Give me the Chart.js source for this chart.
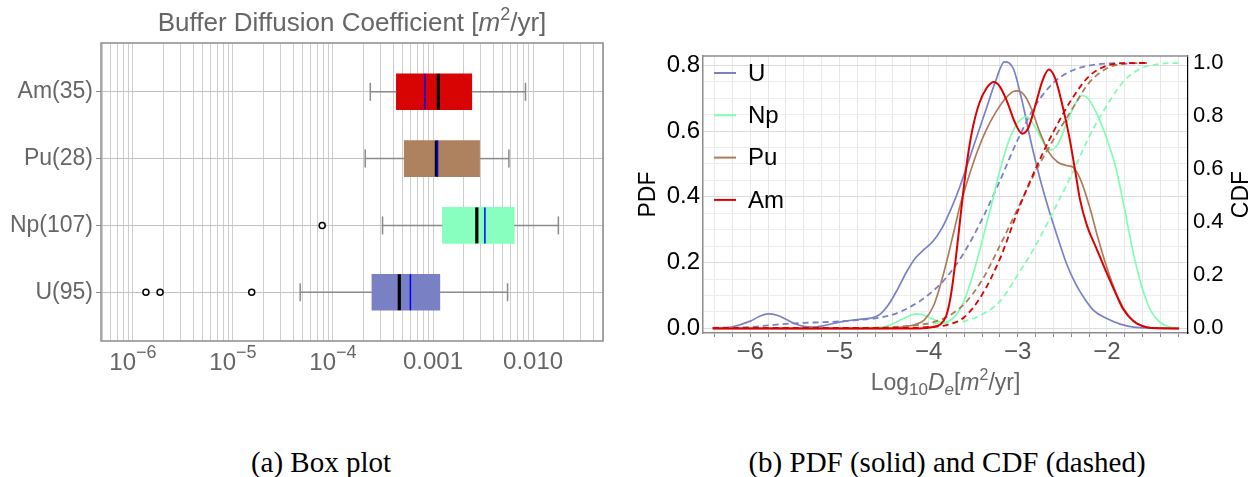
<!DOCTYPE html>
<html>
<head>
<meta charset="utf-8">
<title>Buffer diffusion coefficient</title>
<script src="https://cdn.jsdelivr.net/npm/chart.js@4.4.1/dist/chart.umd.min.js"></script>
<style>
  body { margin: 0; background: #fff; }
  #page { position: relative; width: 1258px; height: 477px; overflow: hidden; background: #fff; }
  #boxChart { position: absolute; left: 0; top: 0; }
  #densityChart { position: absolute; left: 629px; top: 0; }
  .caption { position: absolute; top: 445px; font-family: "Liberation Serif", "Times New Roman", serif; font-size: 29px; line-height: 34px; color: #000; white-space: nowrap; transform: translateX(-50%); }
</style>
</head>
<body>
<div id="page">
  <canvas id="boxChart" width="629" height="410"></canvas>
  <canvas id="densityChart" width="629" height="410"></canvas>
  <div class="caption" style="left:321px">(a) Box plot</div>
  <div class="caption" style="left:947px">(b) PDF (solid) and CDF (dashed)</div>
</div>
<script>
Chart.defaults.font.family = "'Liberation Sans', Arial, sans-serif";
Chart.defaults.animation = false;

// (a) box plot, one entry per element, bottom to top
let elements = ["U(95)", "Np(107)", "Pu(28)", "Am(35)"];
let boxColors = ["rgb(121,128,196)", "rgb(136,255,190)", "rgb(174,129,95)", "rgb(216,4,4)"];
let whiskerLow = [4.7e-5, 3.13e-4, 2.1e-4, 2.36e-4];
let quartileLow = [2.45e-4, 1.24e-3, 5.16e-4, 4.3e-4];
let medians = [4.6e-4, 2.74e-3, 1.08e-3, 1.13e-3];
let means = [5.94e-4, 3.3e-3, 1.11e-3, 8.3e-4];
let quartileHigh = [1.17e-3, 6.5e-3, 2.92e-3, 2.44e-3];
let whiskerHigh = [5.56e-3, 0.0179, 5.73e-3, 8.4e-3];
let outliers = [[1.35e-6, 1.87e-6, 1.54e-5], [7.8e-5], [], []];
let boxTickValues = [1e-6, 1e-5, 1e-4, 1e-3, 1e-2];
let boxTickLabels = [["10", "\u22126"], ["10", "\u22125"], ["10", "\u22124"], ["0.001"], ["0.010"]];

// (b) PDF / CDF of log10 De, points as [log10 De, value]
let species = ["U", "Np", "Pu", "Am"];
let lineColors = ["rgb(122,128,200)", "rgb(128,255,180)", "rgb(172,124,90)", "rgb(222,0,0)"];
let pdfU = [[-6.42,0],[-6.2,0.005],[-6.0,0.022],[-5.9,0.036],[-5.8,0.044],[-5.7,0.04],[-5.6,0.028],[-5.5,0.014],[-5.4,0.006],[-5.3,0.004],[-5.2,0.007],[-5.0,0.019],[-4.8,0.027],[-4.65,0.031],[-4.55,0.042],[-4.45,0.072],[-4.35,0.118],[-4.25,0.17],[-4.15,0.213],[-4.05,0.24],[-3.95,0.265],[-3.85,0.305],[-3.75,0.362],[-3.65,0.43],[-3.55,0.51],[-3.45,0.59],[-3.35,0.67],[-3.25,0.75],[-3.15,0.81],[-3.05,0.79],[-2.95,0.69],[-2.85,0.565],[-2.75,0.455],[-2.65,0.36],[-2.55,0.275],[-2.45,0.195],[-2.35,0.135],[-2.25,0.09],[-2.15,0.055],[-2.0,0.03],[-1.85,0.013],[-1.7,0.004],[-1.5,0.001],[-1.19,0]];
let pdfNp = [[-6.42,0],[-4.7,0],[-4.5,0.005],[-4.4,0.014],[-4.3,0.028],[-4.2,0.04],[-4.13,0.044],[-4.05,0.04],[-3.95,0.028],[-3.87,0.019],[-3.8,0.02],[-3.7,0.038],[-3.6,0.085],[-3.5,0.165],[-3.4,0.265],[-3.3,0.37],[-3.2,0.48],[-3.1,0.57],[-3.0,0.625],[-2.9,0.644],[-2.8,0.61],[-2.7,0.56],[-2.63,0.542],[-2.55,0.56],[-2.45,0.625],[-2.35,0.685],[-2.28,0.708],[-2.2,0.695],[-2.1,0.645],[-2.0,0.575],[-1.9,0.49],[-1.8,0.36],[-1.7,0.225],[-1.6,0.12],[-1.5,0.05],[-1.4,0.018],[-1.3,0.005],[-1.19,0]];
let pdfPu = [[-6.42,0],[-4.5,0],[-4.3,0.004],[-4.15,0.012],[-4.05,0.025],[-3.95,0.065],[-3.88,0.12],[-3.8,0.2],[-3.72,0.29],[-3.65,0.37],[-3.55,0.46],[-3.45,0.54],[-3.35,0.605],[-3.25,0.655],[-3.15,0.695],[-3.05,0.72],[-3.0,0.722],[-2.93,0.71],[-2.85,0.67],[-2.75,0.595],[-2.65,0.535],[-2.55,0.505],[-2.45,0.495],[-2.38,0.49],[-2.3,0.455],[-2.2,0.375],[-2.1,0.275],[-2.0,0.185],[-1.9,0.11],[-1.8,0.055],[-1.7,0.022],[-1.6,0.008],[-1.5,0.002],[-1.19,0]];
let pdfAm = [[-6.42,0],[-4.1,0],[-3.95,0.004],[-3.87,0.012],[-3.8,0.04],[-3.75,0.1],[-3.7,0.2],[-3.65,0.32],[-3.6,0.44],[-3.55,0.54],[-3.5,0.615],[-3.43,0.685],[-3.35,0.73],[-3.27,0.749],[-3.2,0.735],[-3.12,0.69],[-3.03,0.625],[-2.95,0.592],[-2.88,0.61],[-2.8,0.68],[-2.72,0.755],[-2.65,0.787],[-2.58,0.76],[-2.5,0.68],[-2.42,0.58],[-2.35,0.47],[-2.3,0.39],[-2.22,0.31],[-2.12,0.245],[-2.02,0.18],[-1.93,0.124],[-1.82,0.06],[-1.7,0.022],[-1.6,0.007],[-1.5,0.001],[-1.19,0]];
let cdfU = [[-6.42,0],[-6.0,0.003],[-5.8,0.009],[-5.6,0.015],[-5.4,0.019],[-5.2,0.021],[-5.0,0.024],[-4.8,0.029],[-4.6,0.036],[-4.4,0.05],[-4.2,0.08],[-4.0,0.125],[-3.8,0.19],[-3.6,0.285],[-3.4,0.41],[-3.2,0.555],[-3.0,0.71],[-2.8,0.84],[-2.6,0.925],[-2.4,0.97],[-2.2,0.99],[-2.0,0.998],[-1.8,1.0],[-1.55,1.0]];
let cdfNp = [[-6.42,0],[-4.7,0],[-4.4,0.002],[-4.2,0.008],[-4.0,0.015],[-3.8,0.019],[-3.6,0.025],[-3.4,0.05],[-3.2,0.1],[-3.0,0.2],[-2.8,0.31],[-2.6,0.44],[-2.4,0.575],[-2.2,0.72],[-2.0,0.84],[-1.8,0.935],[-1.6,0.982],[-1.4,0.997],[-1.2,1.0]];
let cdfPu = [[-6.42,0],[-4.6,0],[-4.4,0.003],[-4.2,0.008],[-4.0,0.017],[-3.8,0.04],[-3.6,0.09],[-3.4,0.18],[-3.2,0.31],[-3.0,0.45],[-2.8,0.59],[-2.6,0.71],[-2.4,0.82],[-2.2,0.925],[-2.0,0.98],[-1.8,0.997],[-1.55,1.0]];
let cdfAm = [[-6.42,0],[-4.2,0],[-4.0,0.003],[-3.8,0.01],[-3.6,0.04],[-3.4,0.125],[-3.2,0.26],[-3.0,0.44],[-2.8,0.6],[-2.6,0.74],[-2.4,0.86],[-2.2,0.95],[-2.0,0.99],[-1.8,0.999],[-1.55,1.0]];
let pdfTicks = [0, 0.2, 0.4, 0.6, 0.8];
let cdfTicks = [0, 0.2, 0.4, 0.6, 0.8, 1.0];
let logDTicks = [-6, -5, -4, -3, -2];

let fontName = "'Liberation Sans', Arial, sans-serif";

function drawRichText(ctx, parts, centerX, baseline, color) {
  let total = 0;
  parts.forEach(function (p) {
    ctx.font = (p.italic ? "italic " : "") + p.size + "px " + fontName;
    p.width = ctx.measureText(p.text).width;
    total += p.width;
  });
  let x = centerX - total / 2;
  ctx.save();
  ctx.fillStyle = color;
  ctx.textAlign = "left";
  ctx.textBaseline = "alphabetic";
  parts.forEach(function (p) {
    ctx.font = (p.italic ? "italic " : "") + p.size + "px " + fontName;
    ctx.fillText(p.text, x, baseline + (p.dy || 0));
    x += p.width;
  });
  ctx.restore();
}

function logGridValues(min, max) {
  let values = [];
  for (let e = -7; e <= -1; e++) {
    for (let m = 1; m <= 9; m++) {
      let v = parseFloat((m * Math.pow(10, e)).toPrecision(6));
      if (v >= min && v <= max) values.push(v);
    }
  }
  return values;
}

function stepValues(from, to, step) {
  let values = [];
  let n = Math.round((to - from) / step);
  for (let k = 0; k <= n; k++) {
    values.push(Math.round((from + k * step) * 1000) / 1000);
  }
  return values;
}

function isMultiple(value, step) {
  let r = value / step;
  return Math.abs(r - Math.round(r)) < 1e-6;
}

function toPoints(pairs) {
  return pairs.map(function (p) { return { x: p[0], y: p[1] }; });
}

// ---------- (a) Box plot ----------
let boxDatasets = [];

boxDatasets.push({
  type: "bar",
  indexAxis: "y",
  data: elements.map(function (_, i) { return { x: [quartileLow[i], quartileHigh[i]], y: i + 1 }; }),
  backgroundColor: boxColors,
  borderWidth: 0,
  barThickness: 36,
  order: 6
});

elements.forEach(function (_, i) {
  boxDatasets.push({
    type: "line",
    data: [{ x: whiskerLow[i], y: i + 1 }, { x: quartileLow[i], y: i + 1 }],
    borderColor: "#8a8a8a",
    borderWidth: 1.5,
    pointRadius: 0,
    order: 5
  });
  boxDatasets.push({
    type: "line",
    data: [{ x: quartileHigh[i], y: i + 1 }, { x: whiskerHigh[i], y: i + 1 }],
    borderColor: "#8a8a8a",
    borderWidth: 1.5,
    pointRadius: 0,
    order: 5
  });
});

let capPoints = [];
elements.forEach(function (_, i) {
  capPoints.push({ x: whiskerLow[i], y: i + 1 }, { x: whiskerHigh[i], y: i + 1 });
});
boxDatasets.push({
  type: "scatter",
  data: capPoints,
  pointStyle: "line",
  rotation: 90,
  pointRadius: 9,
  borderColor: "#8a8a8a",
  borderWidth: 1.5,
  order: 3
});

let outlierPoints = [];
outliers.forEach(function (list, i) {
  list.forEach(function (v) { outlierPoints.push({ x: v, y: i + 1 }); });
});
boxDatasets.push({
  type: "scatter",
  data: outlierPoints,
  pointStyle: "circle",
  pointRadius: 3,
  borderColor: "#000",
  backgroundColor: "#fff",
  borderWidth: 1.5,
  order: 3
});

boxDatasets.push({
  type: "scatter",
  data: medians.map(function (v, i) { return { x: v, y: i + 1 }; }),
  pointStyle: "line",
  rotation: 90,
  pointRadius: 18,
  borderColor: "#000",
  borderWidth: 3.2,
  order: 2
});

boxDatasets.push({
  type: "scatter",
  data: means.map(function (v, i) { return { x: v, y: i + 1 }; }),
  pointStyle: "line",
  rotation: 90,
  pointRadius: 18,
  borderColor: "rgb(0,0,255)",
  borderWidth: 1.5,
  order: 1
});

let boxDecorations = {
  id: "boxDecorations",
  afterDraw: function (chart) {
    let ctx = chart.ctx;
    let area = chart.chartArea;
    ctx.save();
    ctx.strokeStyle = "#8c8c8c";
    ctx.lineWidth = 1.5;
    ctx.strokeRect(area.left, area.top, area.right - area.left, area.bottom - area.top);
    ctx.restore();

    drawRichText(ctx, [
      { text: "Buffer Diffusion Coefficient [", size: 26 },
      { text: "m", size: 26, italic: true },
      { text: "2", size: 18, dy: -11 },
      { text: "/yr]", size: 26 }
    ], (area.left + area.right) / 2, 31, "#666");

    let xScale = chart.scales.x;
    boxTickValues.forEach(function (v, i) {
      let label = boxTickLabels[i];
      let px = xScale.getPixelForValue(v);
      if (label.length === 2) {
        drawRichText(ctx, [
          { text: label[0], size: 24 },
          { text: label[1], size: 18, dy: -12 }
        ], px, 370, "#666");
      } else {
        drawRichText(ctx, [{ text: label[0], size: 24 }], px, 369, "#666");
      }
    });
  }
};

let boxChart = new Chart(document.getElementById("boxChart"), {
  type: "bar",
  data: { datasets: boxDatasets },
  options: {
    responsive: false,
    devicePixelRatio: 1,
    animation: false,
    layout: { padding: { left: 0, right: 26, top: 43, bottom: 0 } },
    plugins: { legend: { display: false }, tooltip: { enabled: false } },
    scales: {
      x: {
        type: "logarithmic",
        offset: false,
        min: 4.8e-7,
        max: 0.05,
        afterBuildTicks: function (scale) {
          scale.ticks = logGridValues(4.8e-7, 0.05).map(function (v) { return { value: v }; });
        },
        afterFit: function (scale) { scale.height = 69; },
        ticks: { display: false, autoSkip: false },
        grid: { color: "#cdcdcd", lineWidth: 1, drawTicks: false, offset: false },
        border: { display: false }
      },
      y: {
        type: "linear",
        offset: false,
        min: 0.27,
        max: 4.73,
        afterBuildTicks: function (scale) {
          scale.ticks = elements.map(function (_, i) { return { value: i + 1 }; });
        },
        afterFit: function (scale) { scale.width = 101; },
        ticks: {
          autoSkip: false,
          color: "#666",
          font: { size: 23 },
          padding: 3,
          callback: function (value) { return elements[Math.round(value) - 1]; }
        },
        grid: { color: "#c2c2c2", lineWidth: 1, tickColor: "#8c8c8c", tickLength: 5, offset: false },
        border: { display: false }
      }
    }
  },
  plugins: [boxDecorations]
});

// ---------- (b) PDF and CDF ----------
let pdfSeries = [pdfU, pdfNp, pdfPu, pdfAm];
let cdfSeries = [cdfU, cdfNp, cdfPu, cdfAm];
let densityDatasets = [];

species.forEach(function (name, i) {
  densityDatasets.push({
    label: name,
    data: toPoints(pdfSeries[i]),
    yAxisID: "y",
    borderColor: lineColors[i],
    borderWidth: name === "Am" ? 2 : 1.7,
    pointRadius: 0,
    cubicInterpolationMode: "monotone",
    order: 7 - 2 * i
  });
  densityDatasets.push({
    label: name + " CDF",
    data: toPoints(cdfSeries[i]),
    yAxisID: "y2",
    borderColor: lineColors[i],
    borderWidth: 1.8,
    borderDash: [6, 4],
    pointRadius: 0,
    cubicInterpolationMode: "monotone",
    order: 8 - 2 * i
  });
});

let densityDecorations = {
  id: "densityDecorations",
  afterDraw: function (chart) {
    let ctx = chart.ctx;
    let area = chart.chartArea;
    ctx.save();
    ctx.strokeStyle = "#8c8c8c";
    ctx.lineWidth = 1.5;
    ctx.beginPath();
    ctx.moveTo(area.left, area.top);
    ctx.lineTo(area.right, area.top);
    ctx.stroke();

    // legend from the PDF datasets
    let pdfSets = chart.data.datasets.filter(function (d) { return d.yAxisID === "y"; });
    ctx.font = "24px " + fontName;
    ctx.textAlign = "left";
    ctx.textBaseline = "middle";
    pdfSets.forEach(function (d, i) {
      let y = area.top + 17 + i * 42.3;
      ctx.strokeStyle = d.borderColor;
      ctx.lineWidth = 2;
      ctx.beginPath();
      ctx.moveTo(area.left + 11, y);
      ctx.lineTo(area.left + 33, y);
      ctx.stroke();
      ctx.fillStyle = "#000";
      ctx.fillText(d.label, area.left + 45, y + 1);
    });

    // right axis title, read bottom to top
    ctx.translate(613, (area.top + area.bottom) / 2);
    ctx.rotate(-Math.PI / 2);
    ctx.font = "23px " + fontName;
    ctx.textAlign = "center";
    ctx.textBaseline = "middle";
    ctx.fillStyle = "#000";
    ctx.fillText("CDF", 0, 0);
    ctx.restore();

    drawRichText(ctx, [
      { text: "Log", size: 23 },
      { text: "10", size: 17, dy: 5 },
      { text: "D", size: 23, italic: true },
      { text: "e", size: 17, italic: true, dy: 5 },
      { text: "[", size: 23 },
      { text: "m", size: 23, italic: true },
      { text: "2", size: 16, dy: -10 },
      { text: "/yr]", size: 23 }
    ], (area.left + area.right) / 2, 390, "#666");
  }
};

function pdfGridColor(ctx) {
  if (!ctx.tick) return "#ececec";
  return isMultiple(ctx.tick.value, 0.2) ? "#dcdcdc" : "#ededed";
}

let densityChart = new Chart(document.getElementById("densityChart"), {
  type: "line",
  data: { datasets: densityDatasets },
  options: {
    responsive: false,
    devicePixelRatio: 1,
    animation: false,
    layout: { padding: { left: 0, right: 0, top: 56, bottom: 0 } },
    plugins: { legend: { display: false }, tooltip: { enabled: false } },
    scales: {
      x: {
        type: "linear",
        min: -6.53,
        max: -1.09,
        afterBuildTicks: function (scale) {
          scale.ticks = stepValues(-6.4, -1.2, 0.2).map(function (v) { return { value: v }; });
        },
        afterFit: function (scale) { scale.height = 77; },
        ticks: {
          autoSkip: false,
          maxRotation: 0,
          color: "#555",
          font: { size: 24 },
          padding: 1,
          callback: function (value) {
            let r = Math.round(value);
            if (Math.abs(value - r) < 1e-6 && logDTicks.indexOf(r) >= 0) return "\u2212" + Math.abs(r);
            return "";
          }
        },
        grid: { color: "#e6e6e6", tickColor: "#8c8c8c", tickLength: 4 },
        border: { color: "#8c8c8c", width: 1.5 }
      },
      y: {
        position: "left",
        min: -0.014,
        max: 0.828,
        afterBuildTicks: function (scale) {
          scale.ticks = stepValues(0, 0.8, 0.05).map(function (v) { return { value: v }; });
        },
        afterFit: function (scale) { scale.width = 74; },
        ticks: {
          autoSkip: false,
          color: "#000",
          font: { size: 24 },
          padding: 3,
          callback: function (value) {
            let hit = pdfTicks.find(function (t) { return Math.abs(t - value) < 1e-6; });
            return hit === undefined ? "" : hit.toFixed(1);
          }
        },
        grid: { color: pdfGridColor, drawTicks: false },
        border: { color: "#8c8c8c", width: 1.5 },
        title: { display: true, text: "PDF", color: "#000", font: { size: 23 }, padding: { top: 6, bottom: 0 } }
      },
      y2: {
        position: "right",
        min: -0.0196,
        max: 1.0264,
        afterBuildTicks: function (scale) {
          scale.ticks = cdfTicks.map(function (v) { return { value: v }; });
        },
        afterFit: function (scale) { scale.width = 70; },
        ticks: {
          autoSkip: false,
          color: "#000",
          font: { size: 22 },
          padding: 5,
          callback: function (value) { return value.toFixed(1); }
        },
        grid: { drawOnChartArea: false, drawTicks: false },
        border: { color: "#000", width: 1.2, dash: [4, 3] }
      }
    }
  },
  plugins: [densityDecorations]
});
</script>
</body>
</html>
